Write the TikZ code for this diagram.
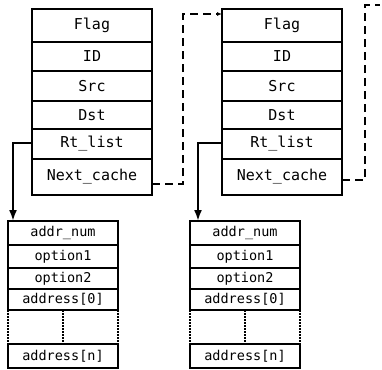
\documentclass[tikz,border=0pt]{standalone}
\usepackage{fontspec}
\setmonofont{DejaVu Sans Mono}
\usetikzlibrary{arrows.meta,positioning}

\begin{document}
\begin{tikzpicture}[x=1pt,y=-1pt,node distance=0pt,
    field/.style={draw,line width=1.4pt,minimum width=120pt,inner sep=0pt,outer sep=0pt,
                  font=\ttfamily\fontsize{15}{17}\selectfont},
    entry/.style={field,minimum width=110pt,font=\ttfamily\fontsize{13.5}{15}\selectfont},
    gap/.style={line width=1.4pt,dash pattern=on 1.5pt off 1.5pt},
    rtlink/.style={-{Latex[length=11pt,width=8pt]},line width=2pt},
    nextlink/.style={-{Latex[length=5pt,width=4pt]},line width=2pt,dash pattern=on 8pt off 5pt}]
  \useasboundingbox (0,0) rectangle (382,369);
  % first cache entry
  \node[field,minimum height=33pt,anchor=north] (lflag) at (92,9) {Flag};
  \node[field,minimum height=29pt,below=of lflag] (lid)  {ID};
  \node[field,minimum height=30pt,below=of lid]   (lsrc) {Src};
  \node[field,minimum height=28pt,below=of lsrc]  (ldst) {Dst};
  \node[field,minimum height=30pt,below=of ldst]  (lrt)  {Rt\_list};
  \node[field,minimum height=36pt,below=of lrt]   (lnc)  {Next\_cache};
  % second cache entry
  \node[field,minimum height=33pt,anchor=north] (rflag) at (282,9) {Flag};
  \node[field,minimum height=29pt,below=of rflag] (rid)  {ID};
  \node[field,minimum height=30pt,below=of rid]   (rsrc) {Src};
  \node[field,minimum height=28pt,below=of rsrc]  (rdst) {Dst};
  \node[field,minimum height=30pt,below=of rdst]  (rrt)  {Rt\_list};
  \node[field,minimum height=36pt,below=of rrt]   (rnc)  {Next\_cache};
  % route lists
  \node[entry,minimum height=24pt,anchor=north] (la1) at (63,221) {addr\_num};
  \node[entry,minimum height=23pt,below=of la1] (la2) {option1};
  \node[entry,minimum height=21pt,below=of la2] (la3) {option2};
  \node[entry,minimum height=21pt,below=of la3] (la4) {address[0]};
  \node[entry,minimum height=24pt,anchor=north] (lan) at (63,344) {address[n]};
  \node[entry,minimum height=24pt,anchor=north] (ra1) at (245,221) {addr\_num};
  \node[entry,minimum height=23pt,below=of ra1] (ra2) {option1};
  \node[entry,minimum height=21pt,below=of ra2] (ra3) {option2};
  \node[entry,minimum height=21pt,below=of ra3] (ra4) {address[0]};
  \node[entry,minimum height=24pt,anchor=north] (ran) at (245,344) {address[n]};
  \draw[gap] (la4.south west) -- (lan.north west);
  \draw[gap] (la4.south) -- (lan.north);
  \draw[gap] (la4.south east) -- (lan.north east);
  \draw[gap] (ra4.south west) -- (ran.north west);
  \draw[gap] (ra4.south) -- (ran.north);
  \draw[gap] (ra4.south east) -- (ran.north east);
  % links
  \draw[rtlink] ([yshift=1pt]lrt.west) -| ([xshift=5pt]la1.north west);
  \draw[rtlink] ([yshift=1pt]rrt.west) -| ([xshift=8pt]ra1.north west);
  \coordinate (nxt) at (380,5);
  \draw[nextlink] ([yshift=-7pt]lnc.east) -- ++(31,0) |- ([yshift=-5pt]rflag.north west);
  \draw[nextlink,-] ([yshift=-3pt]rnc.east) -- ++(23,0) |- (nxt);
\end{tikzpicture}
\end{document}
